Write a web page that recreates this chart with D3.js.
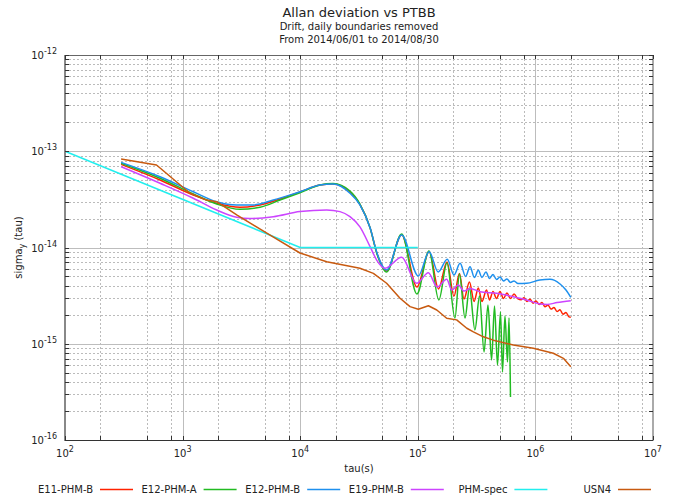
<!DOCTYPE html>
<html><head><meta charset="utf-8">
<script src="https://cdn.jsdelivr.net/npm/d3@7"></script>
<style>
body{margin:0;background:#fff;}
text{font-family:"DejaVu Sans",sans-serif;fill:#222;}
</style></head><body>
<svg id="c" width="676" height="497"></svg>
<script>
const titleText = "Allan deviation vs PTBB";
const subtitles = ["Drift, daily boundaries removed", "From 2014/06/01 to 2014/08/30"];
const seriesNames = ["E11-PHM-B", "E12-PHM-A", "E12-PHM-B", "E19-PHM-B", "PHM-spec", "USN4"];
const seriesColors = ["#ff2200", "#22bb22", "#1e90ee", "#cc44ff", "#22eeee", "#c85a10"];
const xTickExps = [2, 3, 4, 5, 6, 7];
const yTickExps = [-12, -13, -14, -15, -16];
const xMinorMult = [2, 5, 8];
const yMinorMult = [2, 3, 4, 5, 6, 7, 8, 9];

const e11PhmB = [[300,7.31e-14],[643,5.03e-14],[1233,3.51e-14],[1950,2.88e-14],[3076,2.62e-14],[4550,2.77e-14],[6730,3.19e-14],[9950,3.77e-14],[1.47e4,4.46e-14],[1.90e4,4.57e-14],[2.65e4,3.77e-14],[3.22e4,2.80e-14],[3.93e4,1.60e-14],[4.50e4,8.67e-15],[5.43e4,5.70e-15],[7.29e4,1.36e-14],[9.84e4,3.89e-15],[1.25e5,9.08e-15],[1.50e5,3.71e-15],[1.77e5,7.07e-15],[2.03e5,3.13e-15],[2.26e5,5.37e-15],[2.47e5,2.92e-15],[2.75e5,4.38e-15],[3.01e5,2.75e-15],[3.27e5,3.80e-15],[3.51e5,2.75e-15],[3.84e5,3.62e-15],[4.07e5,2.85e-15],[4.36e5,3.49e-15],[4.67e5,2.95e-15],[5.00e5,3.49e-15],[5.35e5,2.95e-15],[5.73e5,3.37e-15],[6.14e5,2.95e-15],[6.58e5,3.29e-15],[7.11e5,2.92e-15],[7.55e5,2.86e-15],[8.00e5,3.01e-15],[8.49e5,2.75e-15],[9.00e5,2.90e-15],[9.55e5,2.64e-15],[1.012e6,2.78e-15],[1.074e6,2.56e-15],[1.138e6,2.68e-15],[1.207e6,2.42e-15],[1.280e6,2.53e-15],[1.358e6,2.29e-15],[1.439e6,2.38e-15],[1.527e6,2.16e-15],[1.618e6,2.25e-15],[1.717e6,2.03e-15],[1.820e6,2.11e-15],[1.932e6,1.90e-15],[2.0e6,1.88e-15]];

const e12PhmA = [[300,7.50e-14],[643,5.24e-14],[1233,3.60e-14],[1950,2.83e-14],[3076,2.49e-14],[4550,2.62e-14],[6730,3.11e-14],[9950,3.71e-14],[1.47e4,4.46e-14],[1.90e4,4.62e-14],[2.65e4,3.86e-14],[3.22e4,2.83e-14],[3.93e4,1.60e-14],[4.50e4,8.56e-15],[5.43e4,5.56e-15],[7.29e4,1.38e-14],[9.84e4,3.29e-15],[1.245e5,9.20e-15],[1.51e5,2.85e-15],[1.77e5,6.90e-15],[2.07e5,1.85e-15],[2.26e5,5.31e-15],[2.52e5,1.85e-15],[2.75e5,3.80e-15],[3.06e5,1.39e-15],[3.35e5,3.13e-15],[3.66e5,8.21e-16],[3.95e5,2.53e-15],[4.24e5,6.78e-16],[4.49e5,2.47e-15],[4.76e5,6.01e-16],[5.05e5,2.14e-15],[5.25e5,5.09e-16],[5.51e5,1.94e-15],[5.79e5,6.46e-16],[5.97e5,1.85e-15],[6.14e5,2.80e-16]];

const e12PhmB = [[300,7.67e-14],[643,5.44e-14],[1233,3.80e-14],[1950,2.99e-14],[2884,2.77e-14],[3990,2.77e-14],[5902,3.11e-14],[9950,3.80e-14],[1.47e4,4.46e-14],[1.90e4,4.57e-14],[2.65e4,3.66e-14],[3.22e4,2.77e-14],[3.93e4,1.60e-14],[4.50e4,8.77e-15],[5.43e4,5.84e-15],[7.29e4,1.35e-14],[1.01e5,5.06e-15],[1.25e5,9.04e-15],[1.49e5,5.56e-15],[1.78e5,7.54e-15],[2.03e5,5.18e-15],[2.29e5,6.85e-15],[2.55e5,5.00e-15],[2.78e5,6.32e-15],[3.03e5,4.88e-15],[3.27e5,5.80e-15],[3.51e5,4.88e-15],[3.80e5,5.56e-15],[4.07e5,4.77e-15],[4.36e5,5.24e-15],[4.67e5,4.65e-15],[5.00e5,4.94e-15],[5.35e5,4.49e-15],[5.73e5,4.71e-15],[6.14e5,4.33e-15],[6.58e5,4.49e-15],[7.11e5,4.22e-15],[8.43e5,4.25e-15],[1.09e6,4.59e-15],[1.33e6,4.67e-15],[1.62e6,4.18e-15],[1.82e6,3.62e-15],[2.0e6,3.04e-15]];

const e19PhmB = [[300,6.91e-14],[643,4.65e-14],[1233,3.25e-14],[1950,2.45e-14],[2884,2.06e-14],[3740,2.00e-14],[5902,2.09e-14],[9950,2.36e-14],[1.68e4,2.45e-14],[2.18e4,2.36e-14],[2.65e4,2.09e-14],[3.22e4,1.64e-14],[3.93e4,1.02e-14],[4.47e4,7.41e-15],[5.26e4,6.08e-15],[7.29e4,7.91e-15],[9.77e4,4.25e-15],[1.23e5,5.47e-15],[1.46e5,3.89e-15],[1.76e5,4.67e-15],[1.95e5,3.62e-15],[2.21e5,4.08e-15],[2.47e5,3.53e-15],[2.78e5,3.75e-15],[3.38e5,3.47e-15],[4.69e5,3.34e-15],[6.49e5,3.08e-15],[8.43e5,2.85e-15],[1.09e6,2.59e-15],[1.26e6,2.56e-15],[1.53e6,2.68e-15],[2.0e6,2.80e-15]];

const phmSpec = [[100,1.0e-13],[1.0e4,1.0e-14],[1.0e5,1.0e-14]];

const usn4 = [[300,8.30e-14],[600,7.19e-14],[1156,3.66e-14],[1603,3.11e-14],[1950,2.99e-14],[2884,2.18e-14],[5875,1.29e-14],[9954,8.77e-15],[1.68e4,7.12e-15],[3.22e4,6.08e-15],[4.19e4,5.39e-15],[5.43e4,4.25e-15],[7.06e4,2.97e-15],[8.59e4,2.43e-15],[1.01e5,2.28e-15],[1.23e5,2.48e-15],[1.45e5,2.24e-15],[1.76e5,1.84e-15],[2.14e5,1.77e-15],[2.61e5,1.45e-15],[2.97e5,1.33e-15],[3.61e5,1.18e-15],[4.39e5,1.09e-15],[6.49e5,9.70e-16],[9.60e5,8.97e-16],[1.42e6,7.96e-16],[1.73e6,7.06e-16],[2.0e6,5.77e-16]];

const seriesData = [e11PhmB, e12PhmA, e12PhmB, e19PhmB, phmSpec, usn4];
const seriesCurves = [d3.curveMonotoneX, d3.curveMonotoneX, d3.curveMonotoneX, d3.curveMonotoneX, d3.curveLinear, d3.curveLinear];

const svg = d3.select("#c");
const L = 65, R = 653, T = 55, B = 440;
const x = d3.scaleLog().domain([1e2, 1e7]).range([L, R]);
const y = d3.scaleLog().domain([1e-16, 1e-12]).range([B, T]);

// title
svg.append("text").attr("x", (L+R)/2).attr("y", 17).attr("text-anchor","middle")
  .style("font-size","13px").text(titleText);
subtitles.forEach((s,i)=>{
  svg.append("text").attr("x",(L+R)/2).attr("y",30+i*13).attr("text-anchor","middle")
    .style("font-size","10px").text(s);
});

// grid
const g = svg.append("g");
const xMinor = [], yMinor = [];
for (let k = 2; k < 7; k++) xMinorMult.forEach(m => xMinor.push(m*Math.pow(10,k)));
for (let k = -16; k < -12; k++) yMinorMult.forEach(m => yMinor.push(m*Math.pow(10,k)));
const xMajor = xTickExps.map(e=>Math.pow(10,e));
const yMajor = yTickExps.map(e=>Math.pow(10,e));

g.selectAll(".vmin").data(xMinor).enter().append("line")
  .attr("x1",d=>Math.round(x(d))+0.5).attr("x2",d=>Math.round(x(d))+0.5).attr("y1",T).attr("y2",B)
  .attr("stroke","#bbb").attr("stroke-width",1).attr("stroke-dasharray","2,2");
g.selectAll(".hmin").data(yMinor).enter().append("line")
  .attr("y1",d=>Math.round(y(d))+0.5).attr("y2",d=>Math.round(y(d))+0.5).attr("x1",L).attr("x2",R)
  .attr("stroke","#bbb").attr("stroke-width",1).attr("stroke-dasharray","2,2");
g.selectAll(".vmaj").data(xMajor.slice(1,-1)).enter().append("line")
  .attr("x1",d=>Math.round(x(d))+0.5).attr("x2",d=>Math.round(x(d))+0.5).attr("y1",T).attr("y2",B)
  .attr("stroke","#bdbdbd").attr("stroke-width",1);
g.selectAll(".hmaj").data(yMajor.slice(1,-1)).enter().append("line")
  .attr("y1",d=>Math.round(y(d))+0.5).attr("y2",d=>Math.round(y(d))+0.5).attr("x1",L).attr("x2",R)
  .attr("stroke","#bdbdbd").attr("stroke-width",1);

// series
seriesData.forEach((d,i)=>{
  const line = d3.line().x(p=>x(p[0])).y(p=>y(p[1])).curve(seriesCurves[i]);
  svg.append("path").datum(d).attr("d",line).attr("fill","none")
    .attr("stroke",seriesColors[i]).attr("stroke-width",1.5).attr("stroke-linejoin","round");
});

// frame
svg.append("line").attr("x1",L).attr("x2",R).attr("y1",T+0.5).attr("y2",T+0.5).attr("stroke","#666");
svg.append("line").attr("x1",L).attr("x2",R+1).attr("y1",B+0.5).attr("y2",B+0.5).attr("stroke","#333");
svg.append("line").attr("x1",L).attr("x2",L).attr("y1",T).attr("y2",B+1).attr("stroke","#888").attr("stroke-width",2);
svg.append("line").attr("x1",R).attr("x2",R).attr("y1",T).attr("y2",B+1).attr("stroke","#aaa").attr("stroke-width",2);

// ticks
const tk = svg.append("g").attr("stroke","#333").attr("stroke-width",1);
xMinor.concat(xMajor).forEach(v=>{
  const px = Math.round(x(v))+0.5;
  tk.append("line").attr("x1",px).attr("x2",px).attr("y1",B).attr("y2",B-4);
  tk.append("line").attr("x1",px).attr("x2",px).attr("y1",T).attr("y2",T+4);
});
yMinor.concat(yMajor).forEach(v=>{
  const py = Math.round(y(v))+0.5;
  tk.append("line").attr("x1",L).attr("x2",L+4).attr("y1",py).attr("y2",py);
  tk.append("line").attr("x1",R).attr("x2",R-4).attr("y1",py).attr("y2",py);
});

// tick labels
xTickExps.forEach(e=>{
  const t = svg.append("text").attr("x",x(Math.pow(10,e))).attr("y",457)
    .attr("text-anchor","middle").style("font-size","10px");
  t.append("tspan").text("10");
  t.append("tspan").attr("dy",-5).style("font-size","8px").text(String(e));
});
yTickExps.forEach(e=>{
  const t = svg.append("text").attr("x",57).attr("y",y(Math.pow(10,e))+4)
    .attr("text-anchor","end").style("font-size","10px");
  t.append("tspan").text("10");
  t.append("tspan").attr("dy",-5).style("font-size","8px").text(String(e));
});

// axis titles
svg.append("text").attr("x",(L+R)/2).attr("y",472).attr("text-anchor","middle")
  .style("font-size","10px").text("tau(s)");
const yt = svg.append("text").attr("transform","translate(22,"+((T+B)/2)+") rotate(-90)")
  .attr("text-anchor","middle").style("font-size","10px");
yt.append("tspan").text("sigma");
yt.append("tspan").attr("dy",3).style("font-size","8px").text("y");
yt.append("tspan").attr("dy",-3).text(" (tau)");

// legend
seriesNames.forEach((n,i)=>{
  const lx = 100 + i*103.6;
  svg.append("text").attr("x",lx-7).attr("y",493).attr("text-anchor","end")
    .style("font-size","10px").text(n);
  svg.append("line").attr("x1",lx).attr("x2",lx+33).attr("y1",489.5).attr("y2",489.5)
    .attr("stroke",seriesColors[i]).attr("stroke-width",1.5);
});
</script>
</body></html>
